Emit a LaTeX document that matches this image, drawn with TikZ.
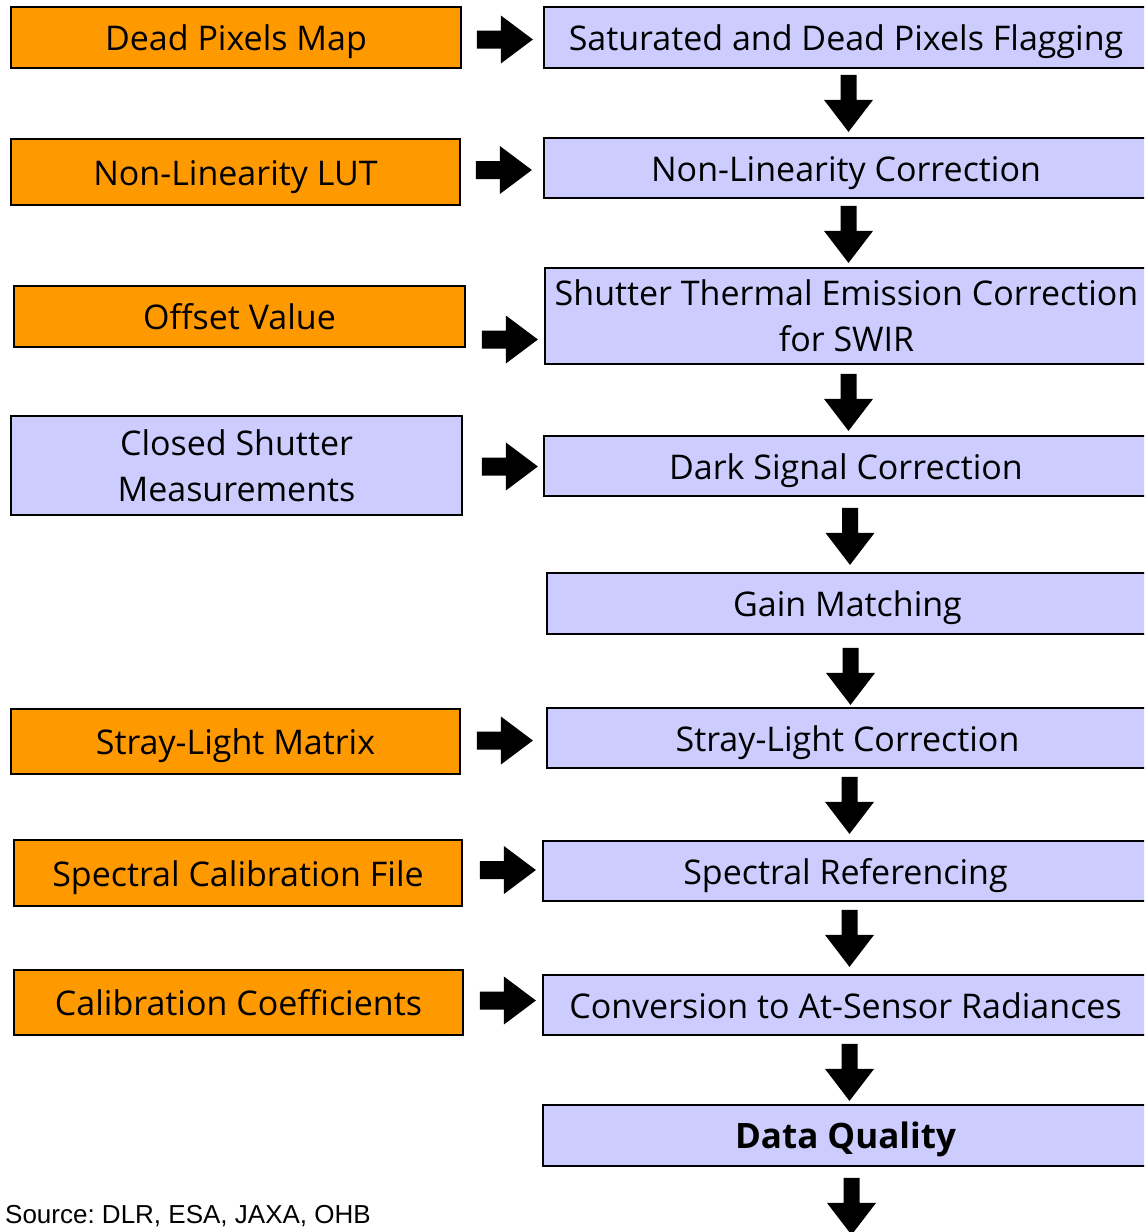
\documentclass[tikz,border=0pt]{standalone}
\usepackage{fontspec}
\setmainfont{Open Sans}
\newfontfamily\srcfont{Liberation Sans}
\usetikzlibrary{calc}
\frenchspacing
\definecolor{orangebox}{RGB}{255,153,0}
\definecolor{bluebox}{RGB}{204,204,255}
\tikzset{
  boxbase/.style={draw=black, line width=1.8pt, inner sep=0pt, align=center,
    font=\fontsize{34}{46}\selectfont, text=black},
  oneline/.style={text height=28pt, text depth=2pt},
  inbox/.style={boxbase, fill=orangebox},
  procbox/.style={boxbase, fill=bluebox},
  blockarrow/.style={fill=black},
}
% horizontal block arrow: tail at #1 (center of tail)
\newcommand{\harrowat}[1]{%
  \fill[blockarrow] (#1) ++(0,-9) -- ++(24,0) -- ++(0,-15) -- ++(32,24) -- ++(-32,24) -- ++(0,-15) -- ++(-24,0) -- cycle;}
% vertical block arrow: tail at #1 (center of tail), pointing down (y grows down)
\newcommand{\varrowat}[1]{%
  \fill[blockarrow] (#1) ++(-8,0) -- ++(0,25) -- ++(-16.5,0) -- ++(24.5,32) -- ++(24.5,-32) -- ++(-16.5,0) -- ++(0,-25) -- cycle;}
\begin{document}
\begin{tikzpicture}[x=1pt,y=-1pt]
\useasboundingbox (0,0) rectangle (1144,1232);
\clip (0,0) rectangle (1144,1232);
% left column
\node[inbox, oneline, minimum width=450pt, minimum height=61pt] (l1) at (236,37.5) {Dead Pixels Map};
\node[inbox, oneline, minimum width=449pt, minimum height=66pt] (l2) at (235.5,172) {Non-Linearity LUT};
\node[inbox, oneline, minimum width=451pt, minimum height=61pt] (l3) at (239.5,316.5) {Offset Value};
\node[procbox, minimum width=451pt, minimum height=99pt] (l4) at (236.5,465.5) {Closed Shutter\\Measurements};
\node[inbox, oneline, minimum width=449pt, minimum height=65pt] (l5) at (235.5,741.5) {Stray-Light Matrix};
\node[inbox, oneline, minimum width=448pt, minimum height=66pt] (l6) at (238,873) {Spectral Calibration File};
\node[inbox, oneline, minimum width=449pt, minimum height=65pt] (l7) at (238.5,1002.5) {Calibration Coefficients};
% right column
\node[procbox, oneline, minimum width=604pt, minimum height=61pt] (r1) at (846,37.5) {Saturated and Dead Pixels Flagging};
\node[procbox, oneline, minimum width=604pt, minimum height=60pt] (r2) at (846,168) {Non-Linearity Correction};
\node[procbox, minimum width=603pt, minimum height=96pt] (r3) at (846.5,316) {Shutter Thermal Emission Correction\\for SWIR};
\node[procbox, oneline, minimum width=604pt, minimum height=60pt] (r4) at (846,466) {Dark Signal Correction};
\node[procbox, oneline, minimum width=601pt, minimum height=61pt] (r5) at (847.5,603.5) {Gain Matching};
\node[procbox, oneline, minimum width=601pt, minimum height=60pt] (r6) at (847.5,738) {Stray-Light Correction};
\node[procbox, oneline, minimum width=605pt, minimum height=60pt] (r7) at (845.5,871) {Spectral Referencing};
\node[procbox, oneline, minimum width=605pt, minimum height=60pt] (r8) at (845.5,1005) {Conversion to At-Sensor Radiances};
\node[procbox, oneline, minimum width=605pt, minimum height=61pt, font=\fontsize{35}{46}\selectfont\bfseries] (r9) at (845.5,1135.5) {Data Quality};
% source
\node[anchor=base west, inner sep=0pt, font=\srcfont\fontsize{26}{30}\selectfont] (src) at (5,1223) {Source: DLR, ESA, JAXA, OHB};
% horizontal arrows (from inputs to steps)
\coordinate (h1) at ($(l1.east)+(15,2)$);
\coordinate (h2) at ($(l2.east)+(15,-2)$);
\coordinate (h3) at ($(l3.east)+(16,23)$);
\coordinate (h4) at ($(l4.east)+(19,1)$);
\coordinate (h5) at ($(l5.east)+(16,-1)$);
\coordinate (h6) at ($(l6.east)+(17,-3)$);
\coordinate (h7) at ($(l7.east)+(16,-2)$);
\foreach \c in {h1,h2,h3,h4,h5,h6,h7} {\harrowat{\c}}
% vertical arrows between steps
\coordinate (v1) at ($(r1.south)+(2.5,6)$);
\coordinate (v2) at ($(r2.south)+(2.5,7)$);
\coordinate (v3) at ($(r3.south)+(2,9)$);
\coordinate (v4) at ($(r4.south)+(4,11)$);
\coordinate (v5) at ($(r5.south)+(3,13)$);
\coordinate (v6) at ($(r6.south)+(2,8)$);
\coordinate (v7) at ($(r7.south)+(4,8)$);
\coordinate (v8) at ($(r8.south)+(4,8)$);
\coordinate (v9) at ($(r9.south)+(6,11)$);
\foreach \c in {v1,v2,v3,v4,v5,v6,v7,v8,v9} {\varrowat{\c}}
\end{tikzpicture}
\end{document}
